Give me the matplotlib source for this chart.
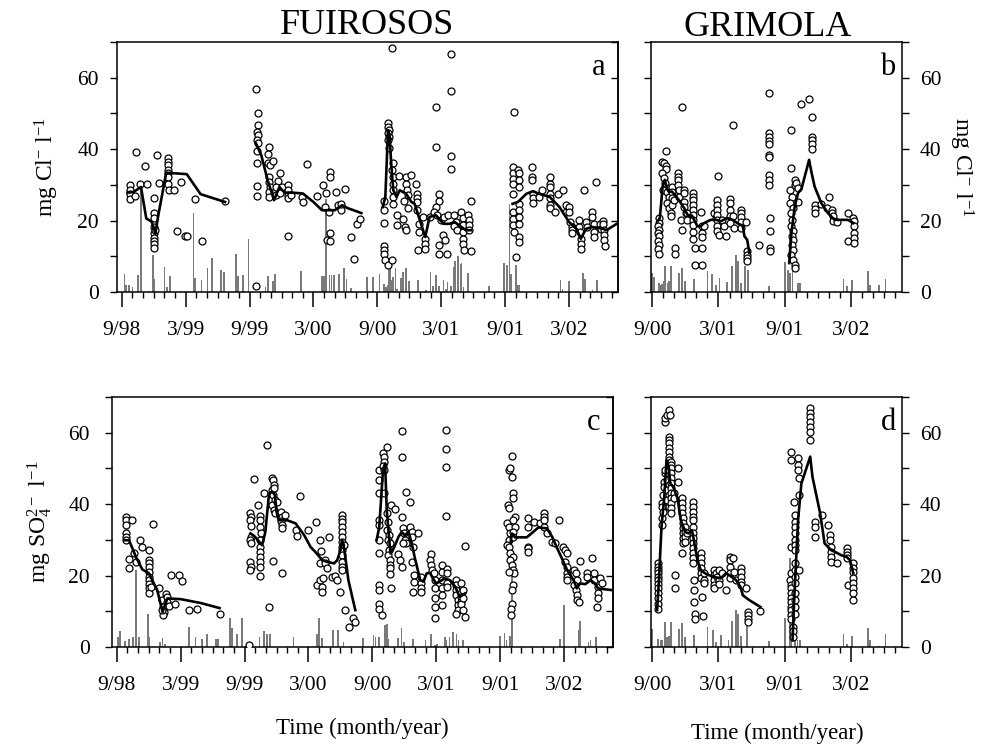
import numpy as np
import matplotlib
matplotlib.use('Agg')
import matplotlib.pyplot as plt
from matplotlib.ticker import MultipleLocator, FixedLocator

plt.rcParams['font.family'] = ['Liberation Serif', 'DejaVu Serif']
plt.rcParams['mathtext.default'] = 'regular'

# x = months since September 1998 (9/98 = 0)
tick_pos_fu = [0, 6, 12, 18, 24, 30, 36, 42]
tick_lab_fu = ['9/98', '3/99', '9/99', '3/00', '9/00', '3/01', '9/01', '3/02']
tick_pos_gr = [24, 30, 36, 42]
tick_lab_gr = ['9/00', '3/01', '9/01', '3/02']

# ---- Fuirosos, chloride (panel a) ----
fu_cl_pts = [
    (0.8, 30), (0.8, 28.5), (0.8, 27.5), (0.8, 26), (1.2, 27), (1.36, 39.3), (1.67, 30.2), (2.15, 35.2),
    (2.37, 30.3), (3.06, 26.2), (3.06, 22.1), (3.06, 20.6), (3.06, 18.2), (3.06, 16.4), (3.06, 15.2),
    (3.06, 14.3), (3.06, 13.4), (3.06, 12.4), (3.15, 17.3), (3.3, 38.4), (3.47, 30.6), (4.35, 37.6),
    (4.35, 36.4), (4.35, 35.5), (4.35, 34.3), (4.35, 33.2), (4.35, 32.2), (4.3, 30.2), (4.45, 28.7),
    (4.9, 28.7), (5.15, 17), (5.56, 30.7), (5.9, 15.8), (6.15, 15.6), (6.85, 26), (7.5, 14.4), (9.7, 25.4),
    (12.6, 1.8), (12.6, 56.9), (12.8, 50), (12.75, 46.9), (12.7, 44.9), (12.8, 44.1), (12.7, 42.5),
    (12.75, 41.6), (12.7, 39.4), (12.7, 36.2), (12.7, 29.8), (12.7, 27), (13.8, 40.5), (13.7, 38.6),
    (13.75, 36.2), (13.9, 35.5), (14.2, 36.7), (13.8, 32.2), (13.8, 30.8), (13.9, 29.4), (13.85, 28),
    (13.8, 26.6), (14.9, 33.2), (14.7, 31), (14.5, 29.4), (14.45, 27.1), (15, 29.4), (14.85, 27.6),
    (15.6, 30.1), (15.6, 28.7), (15.6, 27.3), (15.6, 26.2), (15.6, 15.8), (15.9, 27.3), (16.9, 26.6),
    (17, 25.1), (17.4, 35.9), (18.3, 26.9), (18.9, 29.9), (19.2, 27.6), (19.55, 33.6), (19.55, 32.1),
    (19.1, 23.8), (19.5, 22.4), (19.3, 14.5), (19.55, 16.4), (19.55, 14.3), (20.1, 28), (20.3, 24.3),
    (20.6, 22.9), (21.0, 28.8), (20.6, 24.7), (21.5, 15.4), (21.8, 9.3), (22.1, 19.1), (22.4, 20.4),
    (24.6, 25.5), (24.6, 22.9), (24.6, 19.3), (24.6, 12.9), (24.6, 11.7), (24.65, 10.6), (24.7, 8.9),
    (25.0, 7.5), (25.4, 9.1), (25.0, 47.3), (25.0, 46.2), (25.05, 45.3), (25.0, 44.4), (25.05, 43.4),
    (25.0, 42.5), (25.1, 40.2), (25.4, 68.2), (25.5, 36), (25.4, 34.1), (25.5, 32.2), (25.45, 30.3),
    (25.5, 28.5), (25.5, 26.6), (25.5, 24.7), (25.8, 21.5), (25.8, 18.9), (26.0, 32.4), (26.7, 32.2),
    (26.7, 30.3), (26.8, 28.5), (26.9, 27.1), (26.5, 25.4), (26.9, 23.6), (26.4, 20.4), (26.6, 18.3),
    (26.7, 17.5), (27.2, 32.9), (27.6, 30.3), (27.7, 27.5), (27.7, 26.2), (27.7, 25.2), (27.7, 22.9),
    (27.9, 19.1), (27.9, 16.8), (27.8, 11.7), (28.3, 21), (28.5, 14.9), (28.5, 13.5), (28.5, 12.1),
    (28.9, 21), (29.5, 51.8), (29.5, 40.6), (29.8, 27.4), (29.8, 25.4), (29.5, 23.8), (29.3, 22.4),
    (29.6, 21.5), (29.8, 13.1), (29.8, 10.7), (30.5, 10.7), (30.0, 20.1), (30.3, 21), (30.6, 21.5),
    (30.2, 16), (30.4, 14.6), (30.9, 66.6), (30.9, 56.3), (30.9, 38.1), (30.9, 34.5), (31.2, 21.5),
    (31.4, 19.6), (31.2, 18.5), (31.5, 17.3), (31.9, 22.4), (32.0, 20.6), (32.0, 18.7), (32.0, 16.8),
    (32.0, 14.9), (32.0, 13.5), (32.1, 11.7), (32.5, 21.5), (32.6, 20.1), (32.6, 18.7), (32.6, 17.3),
    (32.75, 11.5), (32.8, 25.4),
    (36.8, 50.4), (36.7, 35), (36.7, 33.3), (36.7, 31.7), (36.7, 30.3), (36.75, 27.5), (36.7, 22.4),
    (36.7, 20.5), (36.75, 18.7), (36.85, 16.8), (37.0, 9.8), (37.2, 34.1), (37.3, 33.2), (37.3, 31.3),
    (37.3, 29.4), (37.3, 24.7), (37.3, 22.9), (37.3, 21), (37.3, 19.1), (37.3, 15.4), (37.3, 14),
    (38.5, 35), (38.5, 32.2), (38.5, 31.3), (38.6, 27.5), (38.6, 26.2), (38.6, 25), (39.2, 26.6),
    (39.5, 28.5), (40.2, 32.2), (40.2, 30.3), (40.2, 29.4), (40.2, 27.5), (40.2, 26.2), (40.25, 24.3),
    (40.25, 23.4), (40.7, 22.4), (41.0, 27.5), (41.4, 28.5), (41.7, 24.3), (41.7, 22.4), (42.0, 23.8),
    (42.0, 22.4), (42.1, 19.6), (42.3, 18.2), (42.3, 17.3), (42.3, 16.4), (42.9, 20.1), (42.9, 18.2),
    (43.0, 16.8), (43.1, 14.9), (43.1, 13.5), (43.1, 12.1), (43.4, 28.5), (43.6, 19.6), (43.7, 18.2),
    (44.2, 22.4), (44.2, 21), (44.3, 19.1), (44.3, 16.8), (44.3, 15.4), (44.5, 30.8), (44.9, 19.1),
    (45.0, 17.7), (45.2, 20), (45.2, 19.1), (45.3, 17.3), (45.3, 15.9), (45.3, 14.5), (45.4, 12.8),
]
fu_cl_line = [
    [(0.54, 27.8), (1.1, 28), (1.8, 29.4), (2.3, 20.6), (2.8, 19.7), (3.16, 16.4), (3.4, 21), (4.17, 33.4),
     (6.1, 33), (7.4, 27.4), (9.7, 25.2)],
    [(12.6, 41.6), (13.1, 38.3), (13.7, 31.3), (14.3, 25.7), (14.8, 29.4), (15.3, 27.8), (16.1, 27.8),
     (17.0, 27.6), (18.0, 25.2), (18.8, 22.9), (20.0, 22.9), (20.7, 24.3), (21.2, 23.5), (22.5, 22.1)],
    [(24.5, 23.8), (24.75, 26.6), (25.0, 45.3), (25.15, 43.9), (25.3, 36), (25.5, 28.5), (25.8, 26.6),
     (26.1, 28.5), (26.7, 27.5), (27.2, 25.2), (27.5, 24.7), (27.8, 21.9), (28.5, 15.4), (28.9, 21),
     (29.5, 21.5), (30.2, 19.1), (30.8, 19.1), (31.25, 19.6), (31.9, 18.2), (32.3, 17.3), (32.8, 17.3)],
    [(36.7, 24.7), (37.2, 25.2), (38.0, 27.5), (38.6, 28.2), (39.2, 27.5), (40.2, 26.6), (41.1, 23.8),
     (42.0, 19.6), (42.7, 17.7), (43.1, 14.9), (43.6, 17.7), (44.2, 18.2), (45.2, 17.7), (45.5, 17.3),
     (46.0, 18.2), (46.6, 19.3)],
]
fu_rain_top = [
    (0.25, 5.1), (0.4, 2), (0.7, 1.9), (1.0, 1.5), (1.5, 4.7), (1.8, 30.2), (2.94, 10.3), (3.06, 3.7),
    (4.0, 7), (4.25, 1.5), (4.5, 4.4), (6.73, 22.1), (6.9, 4), (7.48, 3.3), (8.05, 6.7), (8.5, 9.5),
    (9.3, 6.3), (9.57, 5.6), (10.7, 10.7), (10.9, 4.5), (11.4, 4.7), (11.9, 14.8), (13.5, 1.4), (13.7, 4.5),
    (14.2, 3.1), (14.4, 5), (16.8, 5.9), (18.8, 4.4), (19.0, 4.4), (19.2, 26), (19.5, 4.7), (19.7, 4.7),
    (19.9, 4.7), (20.4, 5), (20.9, 6.8), (21.1, 3.7), (21.5, 1.2), (23.0, 4.2), (23.6, 4.2), (24.2, 5.1),
    (24.6, 2.3), (24.8, 1.4), (25.0, 1.9), (25.1, 6.5), (25.2, 8.9), (25.4, 3.3), (25.5, 4.2), (25.7, 6.8),
    (25.85, 0.9), (26.2, 4), (26.4, 5.6), (26.7, 6.8), (26.95, 3.1), (27.8, 3.5), (28.55, 0.5), (29.0, 5.6),
    (29.2, 1.6), (29.5, 4.9), (29.8, 1.6), (30.2, 3.3), (30.45, 0.9), (30.6, 2.8), (30.9, 1.6), (31.2, 7),
    (31.3, 8.7), (31.6, 10), (31.8, 7.9), (31.9, 8.1), (32.1, 1.4), (32.5, 5.3), (34.5, 1.6), (35.9, 8.1),
    (36.2, 7.5), (36.4, 24.7), (36.55, 5.1), (37.0, 7.7), (37.2, 2.1), (37.35, 2.1), (41.2, 3.5),
    (41.4, 0.9), (42.0, 3.1), (43.3, 5.3), (43.5, 3.7), (44.2, 0.5), (44.6, 3.5),
]

# ---- Grimola, chloride (panel b) ----
gr_cl_pts = [
    (24.6, 20.7), (24.6, 19.3), (24.55, 18.4), (24.6, 17.4), (24.55, 16.5), (24.6, 15.6), (24.55, 14.4),
    (24.6, 13.2), (24.55, 12), (24.6, 10.7), (24.9, 36.5), (25.1, 36.2), (25.3, 39.5), (25.3, 35.3),
    (25.3, 34.4), (24.9, 33.3), (25.05, 31.9), (25.2, 30.5), (25.0, 28.6), (25.35, 28.1), (25.5, 26.7),
    (25.35, 24.9), (25.5, 23.5), (25.7, 22.1), (25.7, 21.2), (25.8, 29.5), (25.8, 28.1), (25.8, 26.2),
    (25.8, 24.4), (26.0, 25.8), (26.1, 12.3), (26.1, 10.7), (26.3, 33.3), (26.3, 32.3), (26.3, 31.4),
    (26.3, 30), (26.4, 28.6), (26.4, 26.7), (26.7, 51.9), (26.6, 20.2), (26.7, 17.4), (26.9, 28.6),
    (26.9, 27.7), (26.9, 25.3), (26.9, 23.9), (27.1, 22.1), (27.2, 22.1), (27.2, 20.2), (27.7, 27.7),
    (27.7, 26.7), (27.7, 25.8), (27.7, 24.4), (27.7, 23), (27.7, 21.6), (27.7, 20.2), (27.7, 18.7),
    (27.7, 16.9), (27.7, 14.9), (27.9, 12.3), (27.9, 7.6), (28.5, 12.3), (28.5, 7.6), (28.4, 22.5),
    (28.5, 18.4), (28.5, 16.5), (28.5, 15.4), (28.7, 18.4), (30.0, 32.6), (29.6, 22.1), (29.75, 20.7),
    (29.9, 25.8), (29.9, 24.4), (29.9, 23), (29.9, 21.6), (29.9, 20.2), (29.9, 18.4), (29.9, 17),
    (30.05, 16), (30.3, 20.2), (30.5, 18.4), (30.7, 15.8), (31.0, 26.1), (31.0, 24.9), (31.0, 23),
    (31.0, 21.2), (31.0, 19.3), (31.3, 46.8), (31.3, 21.2), (31.4, 17.9), (32.0, 23), (32.0, 22.2),
    (32.0, 21.1), (32.0, 19.5), (32.0, 18), (32.5, 19.5), (32.6, 11.6), (32.6, 10.4), (32.6, 9.5),
    (32.6, 8.6), (33.7, 13.2), (34.6, 55.6), (34.6, 44.5), (34.6, 43.5), (34.6, 42.2), (34.6, 41.5),
    (34.6, 38.4), (34.6, 37.9), (34.6, 32.8), (34.6, 31.4), (34.6, 30), (34.65, 20.7), (34.65, 17),
    (34.65, 12.3), (34.65, 11.6),
    (36.6, 45.4), (36.6, 34.7), (36.5, 28.6), (36.65, 26.7), (36.5, 24.9), (36.7, 23.5), (36.6, 22.1),
    (36.65, 20.2), (36.6, 18.4), (36.7, 17), (36.65, 15.6), (36.75, 14.6), (36.65, 13.2), (36.7, 11.8),
    (36.6, 10.4), (36.75, 9), (36.9, 7.6), (36.9, 6.7), (36.9, 31.4), (36.9, 30), (37.05, 30.5),
    (37.2, 29.2), (37.2, 25.3), (37.5, 52.6), (38.2, 54), (38.5, 48.9), (38.5, 43.5), (38.5, 42.5),
    (38.5, 41.5), (38.5, 40), (38.7, 24.4), (38.7, 23.2), (38.7, 22.1), (39.3, 24.6), (40.0, 26.7),
    (39.8, 23.5), (40.3, 23), (40.3, 22.1), (40.4, 21.2), (40.4, 19.8), (40.7, 19.5), (41.7, 22.1),
    (41.7, 14.2), (42.2, 20.7), (42.3, 19.8), (42.3, 18.4), (42.25, 16.5), (42.3, 15.1), (42.25, 13.7),
]
gr_cl_line = [
    [(24.5, 19.8), (24.7, 20.7), (24.95, 29.5), (25.15, 31.4), (25.4, 28.6), (25.5, 28.1), (25.8, 28.1),
     (26.2, 26.7), (26.6, 24.9), (26.9, 23.5), (27.2, 21.6), (27.6, 21.4), (28.1, 18.4), (28.4, 18.4),
     (28.7, 19.3), (29.3, 20.2), (29.8, 20.2), (30.2, 19.8), (30.8, 20.7), (31.3, 20.2), (31.7, 19.3),
     (32.2, 18.5), (32.35, 15.6), (32.6, 14.6), (32.8, 10.9)],
    [(36.4, 8.1), (36.6, 16.5), (36.9, 24), (37.2, 27.7), (37.5, 28.8), (38.2, 37), (38.4, 33.7),
     (38.7, 29.5), (39.3, 24.9), (39.9, 22.1), (40.5, 20.2), (41.1, 20.2), (41.7, 20.2), (42.2, 19.3)],
]
gr_rain_top = [
    (24.0, 5.3), (24.15, 4.3), (24.6, 2.5), (24.75, 2), (24.9, 2.3), (25.05, 3), (25.2, 7.2), (25.4, 2.5),
    (25.55, 3), (25.7, 7.2), (26.4, 5.3), (26.7, 6.7), (27.0, 3), (27.8, 3.6), (29.0, 5.8), (29.45, 5.1),
    (29.75, 2), (30.1, 3.9), (30.8, 2.7), (31.2, 7.2), (31.6, 10.4), (31.8, 8.6), (32.05, 2.5), (32.4, 7.2),
    (32.7, 6.3), (34.6, 1.8), (36.0, 8.3), (36.3, 6.3), (36.45, 5.3), (36.7, 8.1), (37.2, 2.5), (37.4, 2.5),
    (41.3, 3.6), (41.6, 1.6), (42.1, 3.4), (43.5, 5.8), (43.7, 2), (44.5, 2), (45.1, 3.6),
]

# ---- Fuirosos, sulphate (panel c) ----
fu_so4_pts = [
    (0.84, 36.4), (0.84, 35.5), (0.84, 34.1), (0.84, 31.8), (0.84, 30.8), (0.84, 29.9), (1.4, 35.5),
    (1.15, 24.6), (1.15, 22.1), (1.6, 26.4), (1.8, 23.8), (2.15, 29.9), (2.4, 28), (3.0, 27.1),
    (3.05, 24.3), (3.05, 23.4), (3.05, 22.4), (3.05, 21), (3.05, 19.6), (3.05, 18.7), (3.05, 17.6),
    (3.05, 16.4), (3.05, 15), (3.4, 34.4), (3.25, 16.8), (4.0, 16.4), (4.2, 13.1), (4.3, 11.2), (4.4, 9.8),
    (4.35, 8.9), (4.6, 14.9), (4.7, 14), (4.75, 12.6), (4.25, 10.3), (4.9, 11.5), (5.1, 20.1), (5.5, 12.1),
    (5.85, 20.1), (6.1, 18.4), (6.8, 10.5), (7.5, 10.6), (9.65, 9.2),
    (12.4, 0.7), (12.55, 37.4), (12.6, 36.4), (12.55, 35.5), (12.6, 33.9), (12.6, 30.8), (12.55, 29.9),
    (12.6, 29), (12.55, 23.8), (12.6, 22.4), (12.55, 21.5), (12.9, 47), (13.3, 39.7), (13.45, 36.6),
    (13.45, 35.5), (13.45, 33.6), (13.55, 31.8), (13.45, 29.9), (13.45, 28), (13.45, 26.6), (13.45, 25.2),
    (13.45, 23.8), (13.45, 22.4), (13.45, 19.8), (13.8, 43), (14.06, 56.7), (14.3, 11.1), (14.6, 47.2),
    (14.7, 46.7), (14.8, 45.3), (14.6, 43.9), (14.7, 42.5), (14.9, 41.1), (14.6, 39.7), (14.8, 38.3),
    (14.9, 37.4), (14.75, 44.4), (14.7, 24), (15.0, 40.7), (15.4, 37.9), (15.55, 36.4), (15.4, 35.3),
    (15.55, 34.1), (15.55, 33.2), (15.55, 20.8), (15.8, 37.1), (16.8, 32.7), (16.9, 31.1), (17.25, 42.2),
    (18.0, 32.9), (18.75, 35), (18.8, 17.3), (19.1, 29.9), (19.2, 26.8), (19.05, 23.4), (19.1, 18.7),
    (19.3, 16.8), (19.3, 15.4), (19.4, 19.4), (19.55, 24.3), (19.55, 23.4), (19.75, 22), (19.9, 30.8),
    (20.2, 19.6), (20.5, 20), (20.65, 18.7), (21.0, 15.4), (21.15, 36.9), (21.15, 35.9), (21.15, 35),
    (21.15, 33.6), (21.15, 32.2), (21.15, 30.8), (21.15, 29.4), (21.15, 28), (21.15, 27.1), (21.15, 25.7),
    (21.15, 23.8), (21.15, 22.4), (21.15, 21.5), (21.3, 28.5), (21.4, 10.3), (21.8, 5.6), (22.15, 8.2),
    (22.4, 7),
    (24.65, 49.5), (24.65, 46.7), (24.65, 43), (24.65, 35.5), (24.65, 34.1), (24.65, 29.9), (24.65, 26.2),
    (24.65, 17.3), (24.65, 16.1), (24.65, 12.1), (24.65, 10.7), (24.9, 8.9), (25.0, 54.4), (25.05, 53.1),
    (25.1, 51.9), (25.0, 50.7), (25.1, 49.5), (25.4, 56.1), (25.1, 43), (25.35, 37.4), (25.5, 35),
    (25.35, 32.7), (25.6, 31.3), (25.5, 29.9), (25.65, 29), (25.6, 27.1), (25.5, 25.7), (25.65, 24.3),
    (25.65, 22.9), (25.7, 22), (25.75, 39.7), (26.1, 38.6), (25.7, 20.4), (25.75, 16.4), (26.45, 26),
    (26.6, 24.5), (26.75, 22.4), (26.75, 60.6), (26.75, 53.1), (26.75, 36.4), (26.9, 33.2), (27.0, 31.8),
    (27.05, 30.1), (27.2, 29), (26.9, 29), (27.2, 43.5), (27.55, 40.7), (27.55, 33.6), (27.7, 32.2),
    (27.7, 30.8), (27.8, 28), (27.7, 23.8), (27.9, 20.1), (27.95, 18.2), (27.85, 15.4), (28.3, 32),
    (28.6, 19.6), (28.6, 17.8), (28.6, 16.4), (28.6, 15.4), (29.5, 26), (29.4, 24.3), (29.5, 22.9),
    (29.6, 21.5), (29.75, 20.6), (29.9, 18.7), (29.9, 16.4), (29.9, 13.6), (29.9, 11.2), (29.9, 8.2),
    (30.5, 22.9), (30.5, 21), (30.5, 18.7), (30.5, 16.4), (30.5, 14.5), (30.5, 11.7), (30.9, 60.7),
    (30.9, 55.4), (30.9, 50.3), (30.9, 36.6), (31.0, 21.9), (31.0, 20.6), (31.0, 17.8), (31.0, 16.8),
    (31.9, 18.7), (31.9, 17.3), (31.9, 15.9), (31.9, 14.5), (32.05, 13.1), (32.05, 11.7), (32.05, 10.3),
    (31.9, 9.2), (32.3, 17.8), (32.3, 15), (32.3, 14), (32.3, 12.6), (32.3, 12.1), (32.55, 15.9),
    (32.55, 13.6), (32.55, 10.3), (32.7, 8.4), (32.7, 28.3),
    (37.1, 53.5), (36.8, 49.5), (36.95, 50.0), (37.1, 47.7), (37.25, 43), (37.25, 41.6), (36.7, 39.7),
    (36.8, 38.8), (36.65, 34.6), (36.8, 33.6), (36.95, 31.8), (36.8, 29.9), (36.65, 28.5), (36.8, 28),
    (36.95, 26.2), (37.25, 25.2), (36.95, 24.3), (37.1, 22.9), (37.25, 21.5), (37.3, 20.6), (36.8, 21),
    (37.25, 17.3), (37.1, 15.9), (37.1, 12.1), (37.0, 10.7), (37.0, 8.9), (37.4, 36.4), (37.25, 35.5),
    (37.4, 33.6), (37.25, 32.2), (37.25, 30.8), (38.6, 36), (38.6, 33.6), (38.6, 28), (38.6, 27.6),
    (38.6, 26.6), (39.2, 35), (39.7, 34.6), (40.15, 37.4), (40.15, 36.4), (40.15, 35.5), (40.15, 33.6),
    (40.4, 31.8), (40.9, 29.4), (41.2, 29), (41.5, 35.5), (41.95, 28), (42.1, 27.1), (42.3, 26.2),
    (42.1, 23.8), (42.3, 22.4), (42.3, 20.6), (42.3, 19.6), (42.3, 18.7), (42.9, 21.5), (43.1, 20.6),
    (43.2, 18.7), (42.9, 17.3), (43.1, 15.9), (43.2, 14.5), (43.2, 13.1), (43.4, 12.6), (43.5, 24),
    (44.2, 20.6), (44.2, 19.6), (44.6, 25), (44.8, 20.6), (44.8, 18.7), (45.2, 16.8), (45.2, 15),
    (45.2, 13.6), (45.1, 11.2), (45.4, 19.2), (45.55, 17.8),
]
fu_so4_line = [
    [(0.7, 29.9), (1.15, 29.9), (1.8, 25.2), (2.4, 21.7), (3.0, 20.7), (3.8, 15.9), (4.3, 9.8), (4.75, 13.6),
     (6.0, 13.4), (7.9, 12.3), (9.65, 10.9)],
    [(12.55, 31.8), (13.0, 30.8), (13.65, 28.5), (13.95, 32.2), (14.3, 43), (14.6, 43.5), (14.85, 42.5),
     (15.0, 37.9), (15.2, 35.5), (16.0, 35.5), (16.8, 34.6), (17.6, 31.3), (18.2, 28), (18.65, 26.6),
     (19.3, 24.3), (19.8, 23.8), (20.4, 23.4), (20.7, 24.3), (21.0, 27.1), (21.15, 29.9), (21.3, 28.8),
     (21.75, 18.7), (22.4, 10.3)],
    [(24.4, 29.9), (24.65, 33.6), (25.0, 49.5), (25.2, 51.4), (25.35, 38.3), (25.7, 26.2), (26.0, 27.6),
     (26.45, 30.8), (26.75, 32.2), (27.05, 31.3), (27.4, 32.2), (27.7, 29), (28.0, 24.8), (28.5, 18.7),
     (28.8, 18.3), (29.1, 20.6), (29.4, 20.8), (29.75, 18.9), (30.0, 17.8), (30.3, 18.3), (30.8, 19.2),
     (31.3, 18.7), (31.8, 16.8), (32.2, 14), (32.7, 15)],
    [(37.0, 29.4), (37.1, 31.8), (37.4, 30.7), (38.5, 30.7), (39.1, 32.2), (39.6, 33.5), (40.4, 33.2),
     (40.9, 30.8), (41.3, 28), (41.8, 24.8), (42.3, 21.5), (42.9, 18.7), (43.2, 16.4), (43.5, 17.8),
     (44.0, 17.6), (44.5, 18.7), (44.9, 17.8), (45.2, 16.4), (46.0, 16.1), (46.6, 15.9)],
]
fu_rain_bot = [
    (0.12, 2.8), (0.3, 4.5), (0.75, 1.7), (1.15, 2.3), (1.55, 2.8), (1.78, 21.5), (2.1, 2.8), (2.9, 9.3),
    (3.0, 2.8), (4.05, 1.4), (4.3, 2.6), (4.5, 0.9), (6.8, 5.6), (7.4, 2.8), (8.0, 2.3), (8.5, 3.6),
    (9.3, 2.3), (9.5, 2.3), (10.6, 8.1), (10.85, 5.3), (11.3, 3.7), (11.75, 8), (13.4, 2.8), (13.8, 4.5),
    (14.1, 3.7), (14.4, 3.7), (16.6, 2.8), (18.8, 3.6), (19.0, 8), (19.3, 2.4), (20.3, 4.7), (20.75, 4.7),
    (21.3, 1.4), (23.1, 2.6), (24.1, 3.3), (24.3, 2.8), (24.6, 2.8), (25.2, 6.1), (25.35, 6.5), (25.5, 2.3),
    (26.4, 2.6), (26.75, 5.4), (27.0, 1.4), (27.8, 2.3), (29.0, 1.9), (29.5, 3.7), (29.9, 0.5), (30.1, 0.9),
    (30.8, 2.8), (30.95, 2), (31.25, 2.8), (31.6, 4.2), (31.9, 3.7), (32.1, 1.9), (32.5, 1.9), (36.0, 3),
    (36.4, 3.9), (36.6, 1.9), (36.95, 3), (37.1, 21), (41.6, 2.3), (42.0, 11.7), (43.4, 4.7), (43.5, 7.3),
    (44.3, 1.4), (44.5, 1.9), (45.0, 2.8),
]

# ---- Grimola, sulphate (panel d) ----
gr_so4_pts = [
    (24.5, 23.4), (24.5, 22.4), (24.5, 21.5), (24.5, 20.6), (24.5, 19.6), (24.5, 18.7), (24.5, 17.6),
    (24.5, 16.4), (24.5, 15), (24.5, 13.6), (24.5, 12.1), (24.5, 10.7), (24.9, 36), (24.9, 34.1),
    (25.0, 42.5), (24.9, 40.2), (24.9, 39.3), (25.0, 37.9), (25.1, 46.3), (25.1, 44.9), (25.2, 48.6),
    (25.2, 49.5), (25.2, 63.1), (25.2, 64), (25.35, 65), (25.5, 66.5), (25.6, 65), (25.5, 58.9),
    (25.5, 57.9), (25.5, 57), (25.5, 55.6), (25.5, 54.7), (25.5, 53.3), (25.5, 52.3), (25.5, 51.4),
    (25.35, 46.7), (25.5, 45.3), (25.35, 43.9), (25.5, 42.5), (25.35, 41.1), (25.5, 39.3), (25.7, 51.9),
    (25.7, 50.9), (25.7, 50), (25.7, 48.6), (25.7, 47.2), (25.7, 45.8), (25.7, 44.4), (25.7, 43),
    (25.7, 41.6), (25.7, 40.2), (25.7, 38.8), (25.7, 37.4), (26.0, 43), (26.0, 41.6), (26.1, 20.1),
    (26.1, 16.4), (26.3, 50), (26.3, 46.3), (26.7, 41.6), (26.7, 40.2), (26.7, 38.8), (26.7, 37.4),
    (26.8, 36), (26.8, 34.6), (26.8, 33.2), (26.8, 31.8), (26.8, 30.4), (26.8, 29), (26.7, 26.2),
    (27.0, 33.6), (27.0, 32.2), (27.0, 30.8), (27.0, 29.4), (27.2, 31.8), (27.7, 40.7), (27.7, 39.3),
    (27.7, 37.9), (27.7, 36.4), (27.7, 35.5), (27.7, 33.6), (27.7, 31.8), (27.7, 30.4), (27.7, 29),
    (27.7, 27.6), (27.7, 26.2), (27.7, 24.8), (27.7, 23.6), (27.8, 18.7), (27.8, 15.9), (27.8, 12.6),
    (27.9, 9.3), (27.9, 7.9), (28.4, 26.2), (28.4, 24.8), (28.4, 23.4), (28.4, 22), (28.4, 20.6),
    (28.4, 19.2), (28.55, 14), (28.6, 8.6), (28.7, 18.7), (28.7, 17.8), (28.7, 20.6), (29.6, 21.5),
    (29.6, 20.1), (29.6, 18.7), (29.6, 17.3), (29.6, 16.4), (29.75, 20.6), (29.9, 19.6), (30.05, 21.5),
    (30.05, 18.7), (30.05, 17.6), (30.3, 20.6), (30.7, 15.9), (31.0, 25.2), (31.0, 24.3), (31.0, 22.4),
    (31.0, 20.6), (31.0, 19.2), (31.3, 24.8), (31.4, 21), (31.6, 18.7), (32.0, 22), (32.0, 21),
    (32.0, 19.6), (32.0, 18.2), (32.0, 17.3), (32.5, 16.6), (32.65, 9.8), (32.65, 8.9), (32.65, 7.9),
    (32.65, 7), (33.8, 10.1),
    (36.6, 54.7), (36.6, 52.3), (37.2, 52.8), (37.2, 50.9), (37.2, 49.5), (37.3, 47.2), (37.3, 42.5),
    (36.6, 28), (36.55, 20.6), (36.5, 18.7), (36.6, 17.3), (36.55, 16.4), (36.6, 15), (36.55, 13.6),
    (36.6, 12.6), (36.55, 11.2), (36.6, 10.3), (36.55, 8.9), (36.6, 7.9), (36.7, 5.6), (36.7, 4.5),
    (36.7, 2.8), (36.85, 40.7), (36.9, 36.9), (36.9, 35), (36.9, 33.6), (36.9, 31.8), (36.9, 29.9),
    (36.9, 28.5), (36.9, 27.1), (36.9, 23.4), (36.9, 21.5), (36.9, 19.6), (36.9, 17.8), (36.9, 15),
    (36.9, 13.1), (36.9, 11.2), (36.9, 9.3), (37.3, 21.5), (38.3, 66.8), (38.3, 65.4), (38.3, 64.5),
    (38.3, 63.1), (38.3, 61.7), (38.3, 60.3), (38.3, 57.9), (38.7, 35), (38.7, 33.6), (38.7, 30.8),
    (39.4, 36.9), (39.9, 34.1), (40.05, 31.3), (40.05, 29.9), (40.2, 28), (40.2, 26.6), (40.2, 25.2),
    (40.2, 23.8), (40.7, 23.4), (41.6, 27.6), (41.6, 26.6), (41.6, 25.7), (41.6, 24.8), (41.7, 17.3),
    (42.2, 23.4), (42.2, 22), (42.2, 21), (42.2, 19.2), (42.2, 17.8), (42.2, 16.4), (42.2, 15), (42.2, 13.1),
]
gr_so4_line = [
    [(24.45, 10.3), (24.6, 17.8), (24.85, 33.6), (25.1, 42), (25.3, 52.3), (25.5, 50.5), (25.65, 45.8),
     (25.9, 44.9), (26.3, 41.6), (26.6, 35.5), (27.0, 32.2), (27.3, 31.8), (27.6, 32.7), (27.75, 30.4),
     (28.1, 24.3), (28.4, 21.5), (28.9, 20.4), (29.6, 19.6), (30.2, 19.2), (30.7, 20.7), (31.2, 19.6),
     (31.6, 18.7), (32.0, 16.8), (32.2, 14.5), (32.8, 13.1), (33.8, 11.2)],
    [(36.7, 1.9), (36.9, 16.8), (37.2, 35.5), (37.5, 45.8), (37.8, 48.6), (38.3, 53.3), (38.5, 47.7),
     (39.2, 37.4), (39.6, 29), (40.2, 27.1), (40.7, 26.4), (41.1, 25.7), (41.6, 25.2), (41.9, 24.3),
     (42.2, 20.6)],
]
gr_rain_bot = [
    (24.0, 5.1), (24.5, 2.3), (24.75, 1.9), (24.9, 2.1), (25.2, 7), (25.35, 2.8), (25.5, 3), (25.7, 7),
    (26.4, 5.1), (26.7, 6.7), (27.0, 2.8), (27.8, 3.3), (29.0, 5.6), (29.5, 4.9), (29.8, 1.4), (30.2, 3.3),
    (30.9, 1.9), (31.25, 7.3), (31.6, 10.3), (31.8, 9.3), (32.05, 3), (32.55, 7.7), (34.6, 1.6), (36.0, 8.1),
    (36.45, 24.8), (36.6, 2.3), (36.9, 2.3), (37.15, 2), (37.4, 2), (41.3, 3.6), (41.65, 0.9), (42.1, 3),
    (43.5, 5.4), (43.7, 1.9), (44.5, 0.2), (45.1, 3.6),
]

FS_TICK = 15.5
W, H = 983, 745


def px_axes(left, top, right, bottom):
    return [left / W, 1 - bottom / H, (right - left) / W, (bottom - top) / H]


def draw_panel(ax, pts, line, rain, xlim, tpos, tlab, letter, right_labels):
    rx, rh = zip(*rain)
    ax.bar(rx, rh, width=0.16, color='#7a7a7a', linewidth=0, zorder=2)
    px, py = zip(*pts)
    ax.plot(px, py, 'o', ms=5, mfc='white', mec='black', mew=0.9, zorder=3)
    lx, ly = [], []
    for seg in line:
        sx, sy = zip(*seg)
        lx += list(sx) + [np.nan]
        ly += list(sy) + [np.nan]
    ax.plot(lx, ly, color='black', lw=1.9, zorder=4)

    ax.set_xlim(*xlim)
    ax.set_ylim(0, 70)
    for s in ax.spines.values():
        s.set_linewidth(1.1)
    ax.set_xticks(tpos)
    ax.set_xticklabels(tlab)
    ax.xaxis.set_minor_locator(FixedLocator(np.arange(tpos[0], 47, 1)))
    ax.tick_params(axis='x', which='major', direction='out', length=11, width=1.1,
                   pad=10, labelsize=FS_TICK)
    ax.tick_params(axis='x', which='minor', direction='out', length=4.5, width=1.0)
    ax.set_yticks([0, 20, 40, 60])
    ax.yaxis.set_minor_locator(MultipleLocator(10))
    ax.tick_params(axis='y', which='both', direction='out', length=5, width=1.0,
                   labelsize=FS_TICK, pad=8)
    if right_labels:
        ax.tick_params(axis='y', which='both', left=True, right=True,
                       labelleft=False, labelright=True)
    else:
        sec = ax.secondary_yaxis('right')
        sec.set_yticks([0, 20, 40, 60])
        sec.yaxis.set_minor_locator(MultipleLocator(10))
        sec.tick_params(axis='y', which='both', direction='in', length=5, width=1.0,
                        labelright=False)
        sec.spines['right'].set_linewidth(1.1)
    ax.text(0.975, 0.868, letter, transform=ax.transAxes, ha='right', va='baseline',
            fontsize=22)


fig = plt.figure(figsize=(W / 100, H / 100), dpi=100)

ax_a = fig.add_axes(px_axes(117, 42, 618, 292))
ax_b = fig.add_axes(px_axes(651, 42, 902, 292))
ax_c = fig.add_axes(px_axes(112, 397, 613, 647))
ax_d = fig.add_axes(px_axes(651, 397, 902, 647))

draw_panel(ax_a, fu_cl_pts, fu_cl_line, fu_rain_top, (-0.45, 46.6), tick_pos_fu, tick_lab_fu, 'a', False)
draw_panel(ax_b, gr_cl_pts, gr_cl_line, gr_rain_top, (23.9, 46.6), tick_pos_gr, tick_lab_gr, 'b', True)
draw_panel(ax_c, fu_so4_pts, fu_so4_line, fu_rain_bot, (-0.45, 46.6), tick_pos_fu, tick_lab_fu, 'c', False)
draw_panel(ax_d, gr_so4_pts, gr_so4_line, gr_rain_bot, (23.9, 46.6), tick_pos_gr, tick_lab_gr, 'd', True)

ax_a.set_ylabel('mg Cl$^{-}$ l$^{-1}$', fontsize=17, labelpad=12)
ax_c.set_ylabel('mg SO$_4^{2-}$ l$^{-1}$', fontsize=17, labelpad=10)
ax_c.tick_params(axis='y', pad=11)
ax_b.yaxis.set_label_position('right')
ax_b.set_ylabel('mg Cl$^{-}$ l$^{-1}$', fontsize=17, rotation=270, va='bottom', labelpad=4)

fig.text(367 / W, 1 - 26 / H, 'FUIROSOS', ha='center', va='center', fontsize=26)
fig.text(768 / W, 1 - 27 / H, 'GRIMOLA', ha='center', va='center', fontsize=26)
fig.text(362 / W, 1 - 728 / H, 'Time (month/year)', ha='center', va='center', fontsize=16.5)
fig.text(777 / W, 1 - 733 / H, 'Time (month/year)', ha='center', va='center', fontsize=16.5)

fig.savefig('out.png', dpi=100)
